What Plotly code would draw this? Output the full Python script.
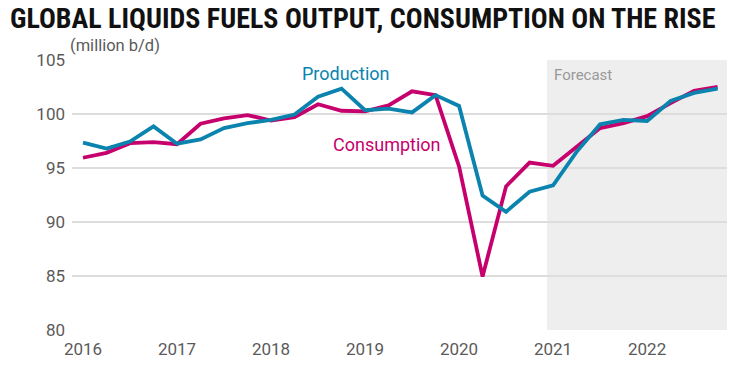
import plotly.graph_objects as go

quarters = [2016 + i / 4 for i in range(28)]
production = [97.35, 96.8, 97.45, 98.85, 97.25, 97.65, 98.7, 99.15,
              99.45, 99.95, 101.6, 102.35, 100.35, 100.5, 100.15, 101.75,
              100.75, 92.45, 90.95, 92.8, 93.4, 96.5, 99.05, 99.45,
              99.35, 101.2, 101.95, 102.35]
consumption = [95.95, 96.4, 97.3, 97.4, 97.2, 99.1, 99.6, 99.9,
               99.4, 99.7, 100.9, 100.3, 100.25, 100.8, 102.1, 101.75,
               95.15, 84.95, 93.3, 95.5, 95.2, 96.95, 98.7, 99.15,
               99.8, 101.0, 102.15, 102.5]
year_ticks = [2016, 2017, 2018, 2019, 2020, 2021, 2022]
year_labels = [str(y) for y in year_ticks]
y_ticks = [80, 85, 90, 95, 100, 105]

BLUE = "#0a84ae"
MAG = "#c6006c"
TICK = "#5a5a5a"
FONT = "Roboto"

fig = go.Figure()
fig.add_trace(go.Scatter(x=quarters, y=consumption, mode="lines", name="Consumption",
                         line=dict(color=MAG, width=3.8), hoverinfo="skip"))
fig.add_trace(go.Scatter(x=quarters, y=production, mode="lines", name="Production",
                         line=dict(color=BLUE, width=3.8), hoverinfo="skip"))

fig.add_shape(type="rect", xref="x", yref="paper", x0=2020.935, x1=2022.85, y0=0, y1=1,
              fillcolor="#eeeeee", line=dict(width=0), layer="below")

fig.update_layout(
    width=740, height=371,
    margin=dict(l=72, r=13, t=60, b=37),
    paper_bgcolor="white", plot_bgcolor="white",
    showlegend=False,
    title=dict(text="<b>GLOBAL LIQUIDS FUELS OUTPUT, CONSUMPTION ON THE RISE</b>",
               font=dict(family="Roboto Condensed, Roboto", size=28, color="#111111"),
               x=10 / 740, xanchor="left", xref="container",
               y=1 - 18 / 371, yanchor="middle", yref="container"),
    xaxis=dict(range=[2015.883, 2022.85], tickmode="array", tickvals=year_ticks,
               ticktext=year_labels, showgrid=False, zeroline=False, showline=False,
               ticks="", ticklabelstandoff=7,
               tickfont=dict(family=FONT, size=17, color=TICK), fixedrange=True),
    yaxis=dict(range=[80, 105], tickmode="array", tickvals=y_ticks, showgrid=True,
               gridcolor="#dddddd", gridwidth=1.5, zeroline=False, showline=False,
               ticks="", ticklabelstandoff=6,
               tickfont=dict(family=FONT, size=17, color=TICK), fixedrange=True),
    annotations=[
        dict(text="(million b/d)", xref="paper", yref="paper", x=-0.006, y=1.055,
             xanchor="left", yanchor="middle", showarrow=False,
             font=dict(family=FONT, size=16.5, color=TICK)),
        dict(text="Production", xref="x", yref="y", x=2018.80, y=103.73,
             xanchor="center", yanchor="middle", showarrow=False,
             font=dict(family=FONT, size=18, color=BLUE)),
        dict(text="Consumption", xref="x", yref="y", x=2019.23, y=97.17,
             xanchor="center", yanchor="middle", showarrow=False,
             font=dict(family=FONT, size=18, color=MAG)),
        dict(text="Forecast", xref="x", yref="y", x=2020.986, y=103.63,
             xanchor="left", yanchor="middle", showarrow=False,
             font=dict(family=FONT, size=15, color="#999999")),
    ],
)

fig.write_html("out.html", config={"displayModeBar": False},
               post_script="document.body.style.margin='0';")
